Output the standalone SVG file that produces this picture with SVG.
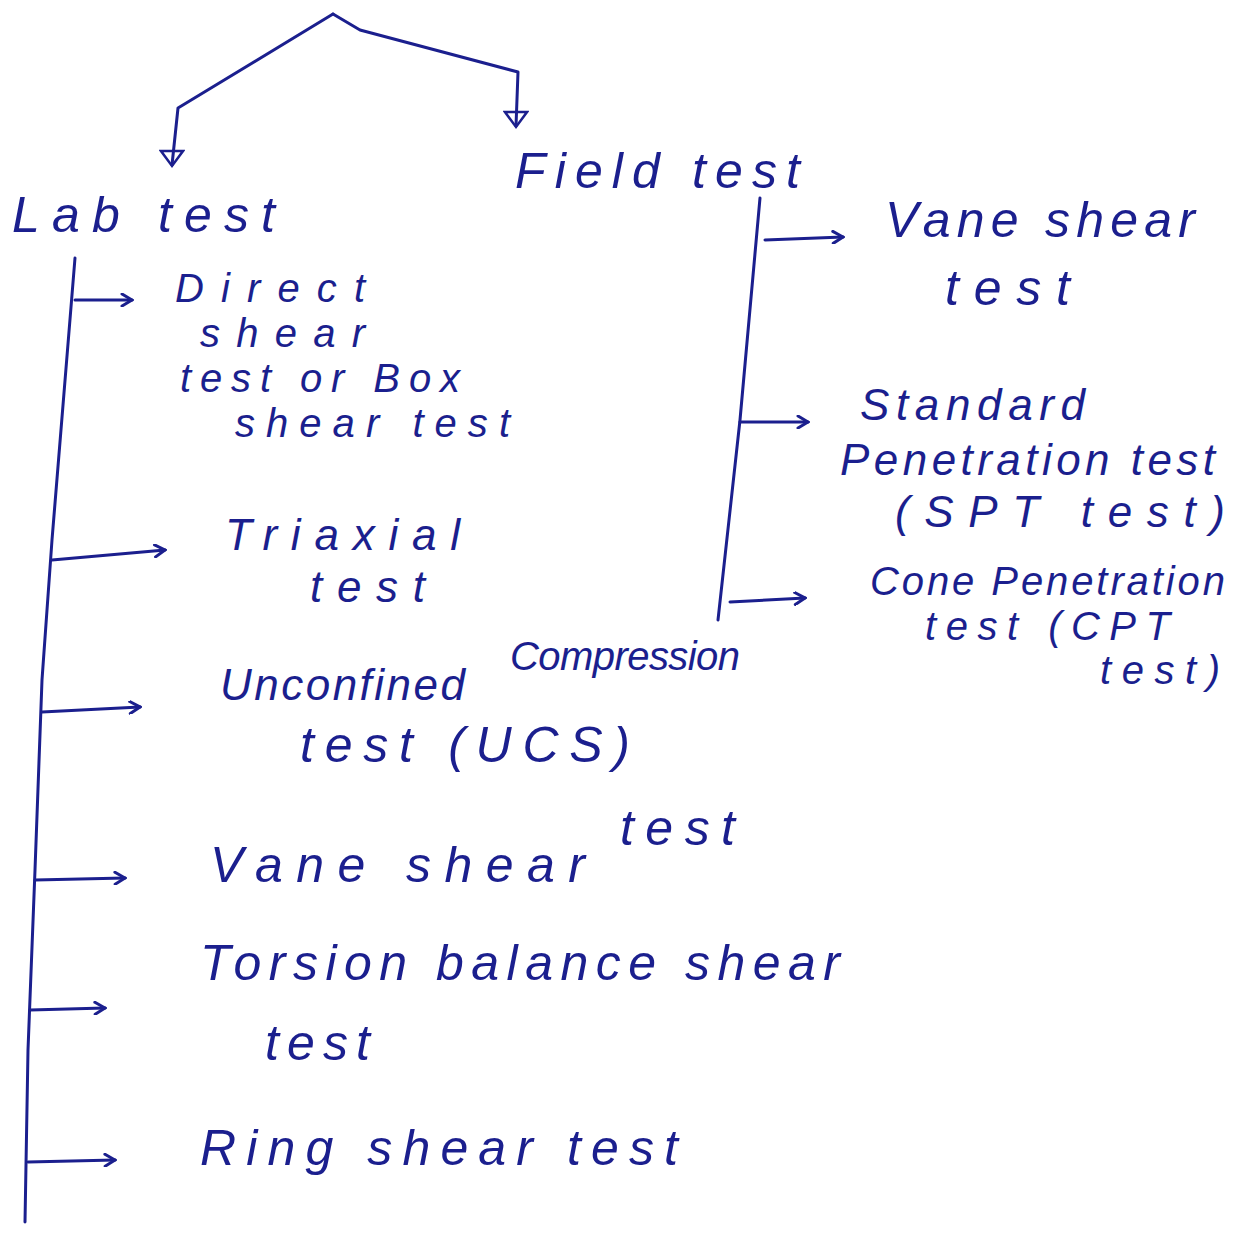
<svg xmlns="http://www.w3.org/2000/svg" width="1239" height="1241" viewBox="0 0 1239 1241">
<style>
.t{font-family:"Liberation Sans","DejaVu Sans",sans-serif;font-style:italic;font-size:50px;fill:#1b1f8e;}
.s{font-size:40px;}
.m{font-size:44px;}
.ln{fill:none;stroke:#1b1f8e;stroke-width:3;stroke-linecap:round;stroke-linejoin:round;}
</style>
<defs>
<marker id="v" markerWidth="14" markerHeight="14" refX="12" refY="7" orient="auto" markerUnits="userSpaceOnUse">
<path d="M2,1 L12,7 L2,13" fill="none" stroke="#1b1f8e" stroke-width="3" stroke-linecap="round"/>
</marker>
<marker id="tri" markerWidth="26" markerHeight="20" refX="13" refY="16" orient="0" markerUnits="userSpaceOnUse">
<path d="M2,2 L24,2 L13,17 Z" fill="none" stroke="#1b1f8e" stroke-width="2.5"/>
</marker>
</defs>
<rect width="1239" height="1241" fill="#ffffff"/>
<g id="connectors">
<polyline class="ln" points="333,14 178,108 172,165" marker-end="url(#tri)"/>
<polyline class="ln" points="333,14 360,30 518,72 516,126" marker-end="url(#tri)"/>
<polyline class="ln" points="75,258 52,540 42,680 35,870 28,1050 25,1222"/>
<line class="ln" x1="75" y1="300" x2="132" y2="300" marker-end="url(#v)"/>
<line class="ln" x1="52" y1="560" x2="165" y2="550" marker-end="url(#v)"/>
<line class="ln" x1="42" y1="712" x2="140" y2="707" marker-end="url(#v)"/>
<line class="ln" x1="35" y1="880" x2="125" y2="878" marker-end="url(#v)"/>
<line class="ln" x1="30" y1="1010" x2="105" y2="1008" marker-end="url(#v)"/>
<line class="ln" x1="28" y1="1162" x2="115" y2="1160" marker-end="url(#v)"/>
<polyline class="ln" points="760,198 740,420 718,620"/>
<line class="ln" x1="765" y1="240" x2="843" y2="237" marker-end="url(#v)"/>
<line class="ln" x1="740" y1="422" x2="808" y2="422" marker-end="url(#v)"/>
<line class="ln" x1="730" y1="602" x2="805" y2="598" marker-end="url(#v)"/>
</g>
<g id="lab-test"><text class="t" x="12" y="232" textLength="263" lengthAdjust="spacing" font-size="54">Lab test</text></g>
<g id="field-test"><text class="t" x="515" y="188" textLength="285" lengthAdjust="spacing" font-size="54">Field test</text></g>
<g id="direct-shear">
<text class="t s" x="175" y="302" textLength="190" lengthAdjust="spacing">Direct</text>
<text class="t s" x="200" y="347" textLength="165" lengthAdjust="spacing">shear</text>
<text class="t s" x="180" y="392" textLength="280" lengthAdjust="spacing">test or Box</text>
<text class="t s" x="235" y="437" textLength="275" lengthAdjust="spacing">shear test</text>
</g>
<g id="triaxial">
<text class="t m" x="225" y="550" textLength="235" lengthAdjust="spacing">Triaxial</text>
<text class="t m" x="310" y="602" textLength="115" lengthAdjust="spacing">test</text>
</g>
<g id="ucs">
<text class="t m" x="220" y="700" textLength="245" lengthAdjust="spacing">Unconfined</text>
<text class="t s" x="510" y="670" textLength="230" lengthAdjust="spacing">Compression</text>
<text class="t" x="300" y="762" textLength="330" lengthAdjust="spacing">test (UCS)</text>
</g>
<g id="vane-lab">
<text class="t" x="210" y="882" textLength="375" lengthAdjust="spacing">Vane shear</text>
<text class="t" x="620" y="845" textLength="115" lengthAdjust="spacing">test</text>
</g>
<g id="torsion">
<text class="t" x="200" y="980" textLength="640" lengthAdjust="spacing">Torsion balance shear</text>
<text class="t" x="265" y="1060" textLength="105" lengthAdjust="spacing">test</text>
</g>
<g id="ring"><text class="t" x="200" y="1165" textLength="478" lengthAdjust="spacing">Ring shear test</text></g>
<g id="vane-field">
<text class="t" x="885" y="237" textLength="310" lengthAdjust="spacing">Vane shear</text>
<text class="t" x="945" y="305" textLength="125" lengthAdjust="spacing">test</text>
</g>
<g id="spt">
<text class="t m" x="860" y="420" textLength="225" lengthAdjust="spacing">Standard</text>
<text class="t m" x="840" y="475" textLength="375" lengthAdjust="spacing">Penetration test</text>
<text class="t m" x="895" y="527" textLength="330" lengthAdjust="spacing">(SPT test)</text>
</g>
<g id="cpt">
<text class="t s" x="870" y="595" textLength="355" lengthAdjust="spacing">Cone Penetration</text>
<text class="t s" x="925" y="640" textLength="245" lengthAdjust="spacing">test (CPT</text>
<text class="t s" x="1100" y="684" textLength="120" lengthAdjust="spacing">test)</text>
</g>
</svg>
